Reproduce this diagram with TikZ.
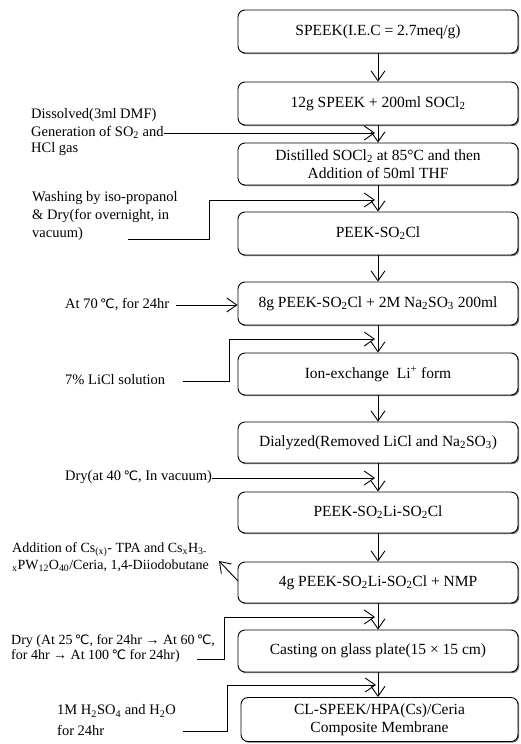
\documentclass[tikz,border=0pt]{standalone}
\usepackage{fontspec}
\setmainfont{Liberation Serif}
\newfontfamily\dvfont{DejaVu Sans}
\usetikzlibrary{arrows.meta,shadows}
\newcommand\degC{{\dvfont\fontsize{13}{15}\selectfont ℃}}
\newcommand\boxfont{\fontsize{15.5}{18}\selectfont}
\newcommand\sidefont{\fontsize{14.5}{17.5}\selectfont}
\newcommand\smallside{\fontsize{14}{17}\selectfont}
\newcommand\sub[1]{\textsubscript{#1}}
\tikzset{
  box/.style={draw, line width=0.9pt, rounded corners=7pt, minimum width=280pt, align=center,
    font=\boxfont, inner sep=0pt, fill=white,
    drop shadow={shadow xshift=1.2pt, shadow yshift=-1.2pt, opacity=0.55, fill=black}},
  lt/.style={anchor=west, font=\sidefont, inner sep=0pt, align=left},
  ltsmall/.style={lt, font=\smallside},
  arr/.style={-{Straight Barb[length=10pt,width=14pt]}, line width=0.9pt},
}
\begin{document}
\begin{tikzpicture}[x=1pt,y=-1pt]
\useasboundingbox (0,0) rectangle (520,744);
% boxes
\node[box, minimum height=43pt] (b1) at (378,31.5) {SPEEK(I.E.C = 2.7meq/g)};
\node[box, minimum height=43pt] (b2) at (378,103.5) {12g SPEEK + 200ml SOCl\sub{2}};
\node[box, minimum height=42pt] (b3) at (378,164) {Distilled SOCl\sub{2} at 85°C and then\\Addition of 50ml THF};
\node[box, minimum height=43pt] (b4) at (378,233.5) {PEEK-SO\sub{2}Cl};
\node[box, minimum height=43pt] (b5) at (378,303.5) {8g PEEK-SO\sub{2}Cl + 2M Na\sub{2}SO\sub{3} 200ml};
\node[box, minimum height=42pt] (b6) at (378,374) {Ion-exchange \ Li\textsuperscript{+} form};
\node[box, minimum height=41pt] (b7) at (378,442.5) {Dialyzed(Removed LiCl and Na\sub{2}SO\sub{3})};
\node[box, minimum height=41pt] (b8) at (378,512.5) {PEEK-SO\sub{2}Li-SO\sub{2}Cl};
\node[box, minimum height=41pt] (b9) at (378,582.5) {4g PEEK-SO\sub{2}Li-SO\sub{2}Cl + NMP};
\node[box, minimum height=42pt] (b10) at (378,651) {Casting on glass plate(15 × 15 cm)};
\node[box, minimum height=44pt, minimum width=277pt] (b11) at (379.5,719.5) {CL-SPEEK/HPA(Cs)/Ceria\\Composite Membrane};
% vertical arrows
\foreach \a/\b in {b1/b2,b2/b3,b3/b4,b4/b5,b5/b6,b6/b7,b7/b8,b8/b9,b9/b10}
  \draw[arr] (\a.south) -- (\b.north);
\draw[arr] (b10.south) -- (b10.south |- b11.north);
% side texts
\node[lt] (a1) at (31,115) {Dissolved(3ml DMF)};
\node[lt] (a2) at (31,132) {Generation of SO\sub{2} and};
\node[lt] (a3) at (31,149) {HCl gas};
\coordinate (pa) at (375,133);
\draw[arr] (a2.east |- pa) -- (pa);

\node[lt] (w1) at (32,198) {Washing by iso-propanol};
\node[lt] (w2) at (32,216) {\& Dry(for overnight, in};
\node[lt] (w3) at (32,234) {vacuum)};
\coordinate (wa) at (128,239);
\coordinate (wb) at (209,200);
\coordinate (pw) at (375,200);
\draw[arr] (wa) -- (wa -| wb) -- (wb) -- (pw);

\node[lt] (c1) at (65,305) {At 70\,\degC, for 24hr};
\draw[arr] (176,305) -- (b5.west |- 0,305);

\node[lt] (d1) at (65,380) {7\% LiCl solution};
\coordinate (da) at (183,381);
\coordinate (db) at (229,339);
\coordinate (pd) at (375,339);
\draw[arr] (da) -- (da -| db) -- (db) -- (pd);

\node[lt] (e1) at (65,477) {Dry(at 40\,\degC, In vacuum)};
\coordinate (pe) at (375,478);
\draw[arr] (e1.east |- pe) -- (pe);

\node[ltsmall] (f1) at (12,550) {Addition of Cs\sub{(x)}- TPA and Cs\sub{x}H\sub{3-}};
\node[ltsmall] (f2) at (12,566) {\sub{x}PW\sub{12}O\sub{40}/Ceria, 1,4-Diiodobutane};
\coordinate (fa) at (238,581);
\coordinate (pf) at (219,561);
\draw[arr] (fa) -- (pf);

\node[ltsmall] (g1) at (11,641) {Dry (At 25\,\degC, for 24hr → At 60\,\degC,};
\node[ltsmall] (g2) at (11,656) {for 4hr → At 100\,\degC\ for 24hr)};
\coordinate (ga) at (197,659);
\coordinate (gb) at (224,617);
\coordinate (pg) at (375,617);
\draw[arr] (ga) -- (ga -| gb) -- (gb) -- (pg);

\node[lt] (h1) at (57,711) {1M H\sub{2}SO\sub{4} and H\sub{2}O};
\node[lt] (h2) at (57,730) {for 24hr};
\coordinate (ha) at (183,731);
\coordinate (hb) at (227,685);
\coordinate (ph) at (376,685);
\draw[arr] (ha) -- (ha -| hb) -- (hb) -- (ph);
\end{tikzpicture}
\end{document}
